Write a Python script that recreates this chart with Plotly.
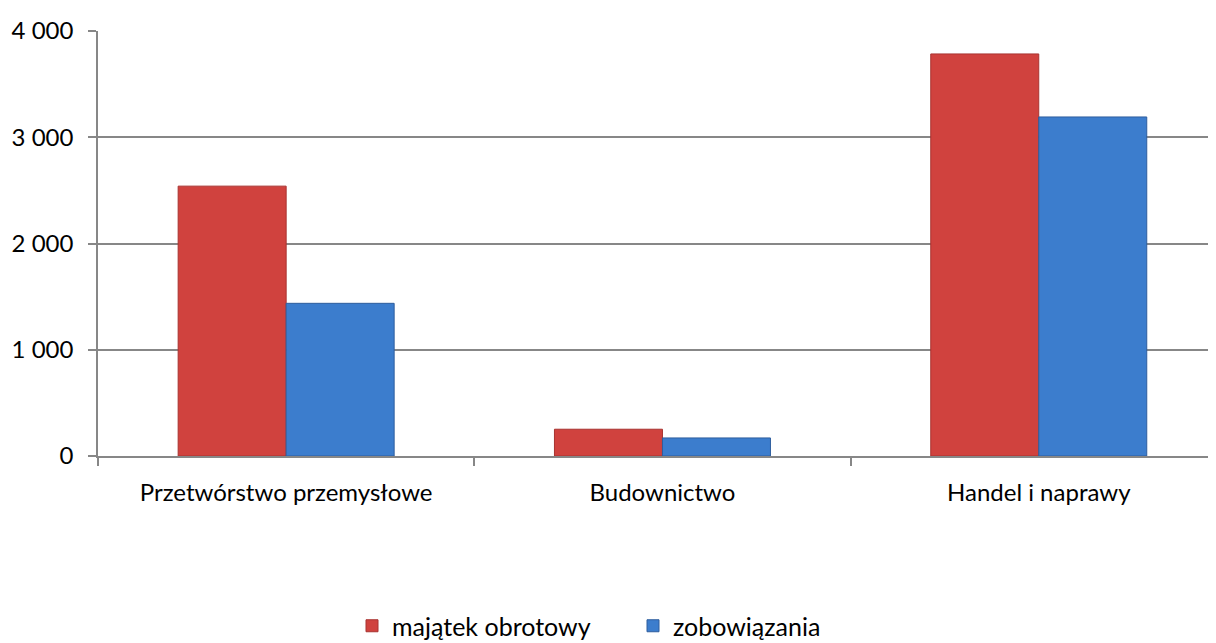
import plotly.graph_objects as go

categories = ["Przetwórstwo przemysłowe", "Budownictwo", "Handel i naprawy"]
majatek = [2540, 252, 3784]
zobowiazania = [1437, 170, 3191]
series_names = ["majątek obrotowy", "zobowiązania"]
y_ticks = [0, 1000, 2000, 3000, 4000]
y_tick_labels = ["0", "1 000", "2 000", "3 000", "4 000"]

FONT = "Lato, Carlito, Calibri, sans-serif"
GRID = "#878787"

fig = go.Figure()
fig.add_trace(go.Bar(
    x=categories, y=majatek, name=series_names[0],
    marker=dict(color="#D0423E", line=dict(color="#A83330", width=1)),
))
fig.add_trace(go.Bar(
    x=categories, y=zobowiazania, name=series_names[1],
    marker=dict(color="#3C7DCD", line=dict(color="#2E5E9E", width=1)),
))

# page body has an 8px margin; figure is sized to fit the 1216x643 window
W, H = 1208, 635
L, T, B = 90, 23, 187
plot_w = W - L
plot_h = H - T - B
fig.update_layout(
    width=W, height=H,
    margin=dict(l=L, r=0, t=T, b=B, autoexpand=False),
    paper_bgcolor="white", plot_bgcolor="white",
    barmode="group", bargap=0.426, bargroupgap=0,
    font=dict(family=FONT, size=24, color="#000000"),
    showlegend=True,
    legend=dict(
        orientation="h", x=(352 - 8 - L) / plot_w, xanchor="left",
        y=-(626 - 456) / plot_h, yanchor="middle",
        font=dict(family=FONT, size=25), entrywidth=236, entrywidthmode="pixels",
        itemwidth=30, tracegroupgap=0,
    ),
    xaxis=dict(
        type="category", range=[-0.5, 2.471],
        showline=True, linecolor=GRID, linewidth=1.5,
        ticks="outside", tickson="boundaries", ticklen=8, tickcolor=GRID, tickwidth=1.5,
        showgrid=False, ticklabelstandoff=14,
        tickfont=dict(family=FONT, size=24),
    ),
    yaxis=dict(
        range=[0, 4000], tickvals=y_ticks, ticktext=y_tick_labels,
        showline=True, linecolor=GRID, linewidth=1.5,
        ticks="outside", ticklen=8, tickcolor=GRID, tickwidth=1.5,
        showgrid=True, gridcolor=GRID, gridwidth=1.5,
        zeroline=False, ticklabelstandoff=10,
        tickfont=dict(family=FONT, size=24),
    ),
)

fig.write_html("out.html")
